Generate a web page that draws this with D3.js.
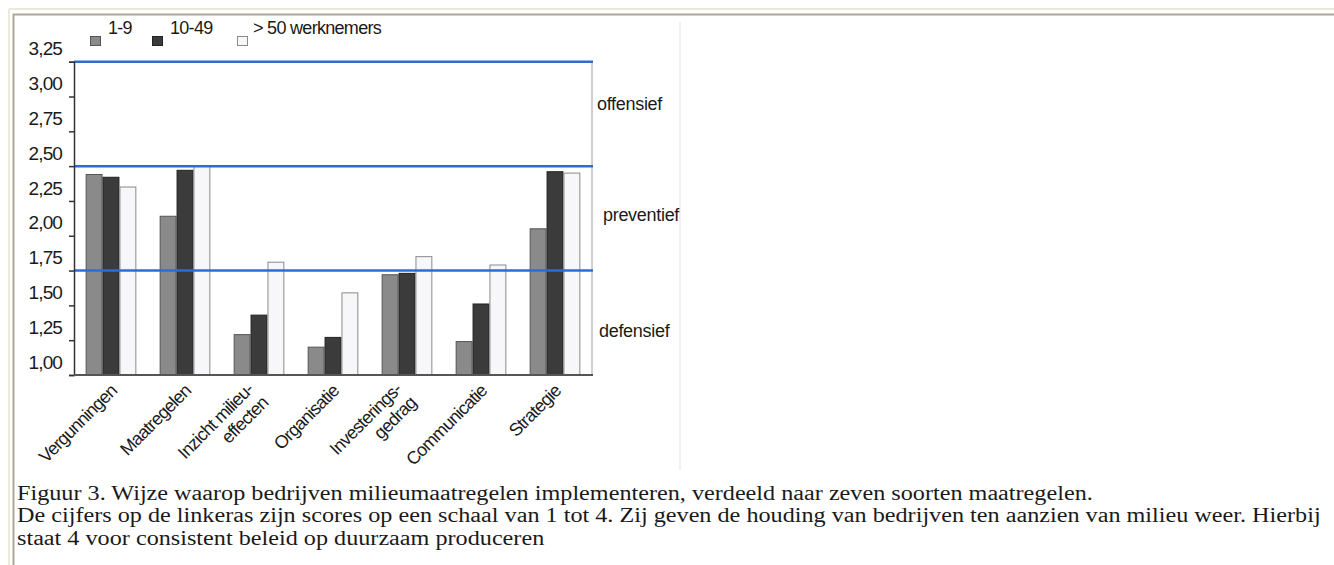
<!DOCTYPE html>
<html>
<head>
<meta charset="utf-8">
<script src="https://cdn.jsdelivr.net/npm/d3@7"></script>
<style>
body { margin: 0; background: #fff; }
svg text { font-family: "Liberation Sans", Arial, sans-serif; fill: #1a1a1a; }
</style>
</head>
<body>
<div id="chart"></div>
<script>
// categories on the x axis ("\n" = second line)
var categories = ["Vergunningen", "Maatregelen", "Inzicht milieu-\neffecten", "Organisatie",
                  "Investerings-\ngedrag", "Communicatie", "Strategie"];
var series = ["1-9", "10-49", "> 50 werknemers"];
var values_1_9   = [2.44, 2.14, 1.29, 1.20, 1.72, 1.24, 2.05];
var values_10_49 = [2.42, 2.47, 1.43, 1.27, 1.73, 1.51, 2.46];
var values_50    = [2.35, 2.50, 1.81, 1.59, 1.85, 1.79, 2.45];
var yTicks = [1.00, 1.25, 1.50, 1.75, 2.00, 2.25, 2.50, 2.75, 3.00, 3.25];
// blue boundary lines between the zones
var zoneLines = [1.75, 2.50, 3.25];
var zoneNames = ["offensief", "preventief", "defensief"];
var zoneLabelAt = [2.95, 2.15, 1.32];
var caption = [
  "Figuur 3. Wijze waarop bedrijven milieumaatregelen implementeren, verdeeld naar zeven soorten maatregelen.",
  "De cijfers op de linkeras zijn scores op een schaal van 1 tot 4. Zij geven de houding van bedrijven ten aanzien van milieu weer. Hierbij",
  "staat 4 voor consistent beleid op duurzaam produceren"
];

var colors = ["#8a8a8a", "#3b3b3b", "#f7f7fa"];
var strokes = ["#555", "#222", "#8a8a8a"];

var W = 1334, H = 565;
var svg = d3.select("#chart").append("svg").attr("width", W).attr("height", H);
svg.append("rect").attr("width", W).attr("height", H).attr("fill", "#fff");

// window-like frame
svg.append("line").attr("x1", 9).attr("x2", W).attr("y1", 9).attr("y2", 9).attr("stroke", "#ece9d8").attr("stroke-width", 2);
svg.append("line").attr("x1", 9).attr("x2", 9).attr("y1", 9).attr("y2", H).attr("stroke", "#ece9d8").attr("stroke-width", 2);
svg.append("line").attr("x1", 13).attr("x2", W).attr("y1", 14.5).attr("y2", 14.5).attr("stroke", "#aca899").attr("stroke-width", 2);
svg.append("line").attr("x1", 13.5).attr("x2", 13.5).attr("y1", 14).attr("y2", H).attr("stroke", "#aca899").attr("stroke-width", 2);
svg.append("line").attr("x1", 680).attr("x2", 680).attr("y1", 22).attr("y2", 470).attr("stroke", "#ececec").attr("stroke-width", 1.5);

var pLeft = 74, pRight = 592, pTop = 61.7, pBottom = 375;

var y = d3.scaleLinear().domain([1, 3.25]).range([pBottom, pTop]);
var x0 = d3.scaleBand().domain(categories).range([pLeft, pRight]).paddingInner(0.315).paddingOuter(0.1575);
var x1 = d3.scaleBand().domain(series).range([0, x0.bandwidth()]);

var allValues = [values_1_9, values_10_49, values_50];

// plot right border
svg.append("line").attr("x1", pRight).attr("x2", pRight).attr("y1", pTop).attr("y2", pBottom).attr("stroke", "#a0a0a0").attr("stroke-width", 1);

// bars
categories.forEach(function(c, i) {
  var g = svg.append("g").attr("transform", "translate(" + x0(c) + ",0)");
  series.forEach(function(s, k) {
    var v = allValues[k][i];
    g.append("rect")
      .attr("x", x1(s) + 0.5)
      .attr("y", y(v))
      .attr("width", x1.bandwidth() - 1)
      .attr("height", y(1) - y(v))
      .attr("fill", colors[k])
      .attr("stroke", strokes[k])
      .attr("stroke-width", 1);
  });
});

// blue zone lines
svg.selectAll(".zone").data(zoneLines).enter().append("line")
  .attr("x1", pLeft).attr("x2", pRight + 1)
  .attr("y1", function(d) { return y(d); }).attr("y2", function(d) { return y(d); })
  .attr("stroke", "#2f6bd6").attr("stroke-width", 2.5);

// y axis
var yAxis = d3.axisLeft(y).tickValues(yTicks).tickSize(5).tickPadding(7)
  .tickFormat(function(d) { return d3.format(".2f")(d).replace(".", ","); });
var ya = svg.append("g").attr("transform", "translate(" + pLeft + ",0)").call(yAxis);
ya.select(".domain").attr("stroke", "#333").attr("stroke-width", 1.5);
ya.selectAll(".tick line").attr("stroke", "#333").attr("stroke-width", 1.5);
ya.selectAll(".tick text")
  .attr("y", -13)
  .style("font-size", "19px").style("letter-spacing", "-0.9px")
  .attr("fill", "#1a1a1a");

// x baseline
svg.append("line").attr("x1", pLeft).attr("x2", pRight + 1).attr("y1", pBottom).attr("y2", pBottom)
  .attr("stroke", "#555").attr("stroke-width", 2);

// rotated category labels
categories.forEach(function(c) {
  var lines = c.split("\n");
  var cx = x0(c) + x0.bandwidth() / 2 + (lines.length > 1 ? 4 : 7);
  var t = svg.append("text")
    .attr("transform", "translate(" + cx + ",392) rotate(-45)")
    .attr("text-anchor", "end")
    .style("font-size", "18px").style("letter-spacing", "-0.8px");
  if (lines.length == 1) {
    t.text(c);
  } else {
    t.append("tspan").attr("x", -5).attr("y", -7).text(lines[0]);
    t.append("tspan").attr("x", -4).attr("y", 13).text(lines[1]);
  }
});

// zone names at the right
zoneNames.forEach(function(n, i) {
  svg.append("text").attr("x", [597, 603, 599][i]).attr("y", y(zoneLabelAt[i]))
    .attr("dy", "0.35em")
    .style("font-size", "18px").style("letter-spacing", "-0.3px")
    .text(n);
});

// legend
var legX = [90, 152, 237];
var legTx = [108, 170, 253];
series.forEach(function(s, k) {
  svg.append("rect").attr("x", legX[k] + 0.5).attr("y", 36.5).attr("width", 10).attr("height", 9)
    .attr("fill", colors[k]).attr("stroke", strokes[k]).attr("stroke-width", 1);
  svg.append("text").attr("x", legTx[k]).attr("y", 34)
    .style("font-size", "18px").style("letter-spacing", "-0.7px")
    .text(s);
});

// caption (the source is stretched horizontally)
svg.append("g").attr("transform", "translate(17,0) scale(1.21,1)")
  .selectAll(".cap").data(caption).enter().append("text")
  .attr("x", 0)
  .attr("y", function(d, i) { return 500 + i * 22.5; })
  .style("font-family", "'Liberation Serif', 'Times New Roman', serif")
  .style("font-size", "20px")
  .attr("fill", "#000")
  .text(function(d) { return d; });
</script>
</body>
</html>
